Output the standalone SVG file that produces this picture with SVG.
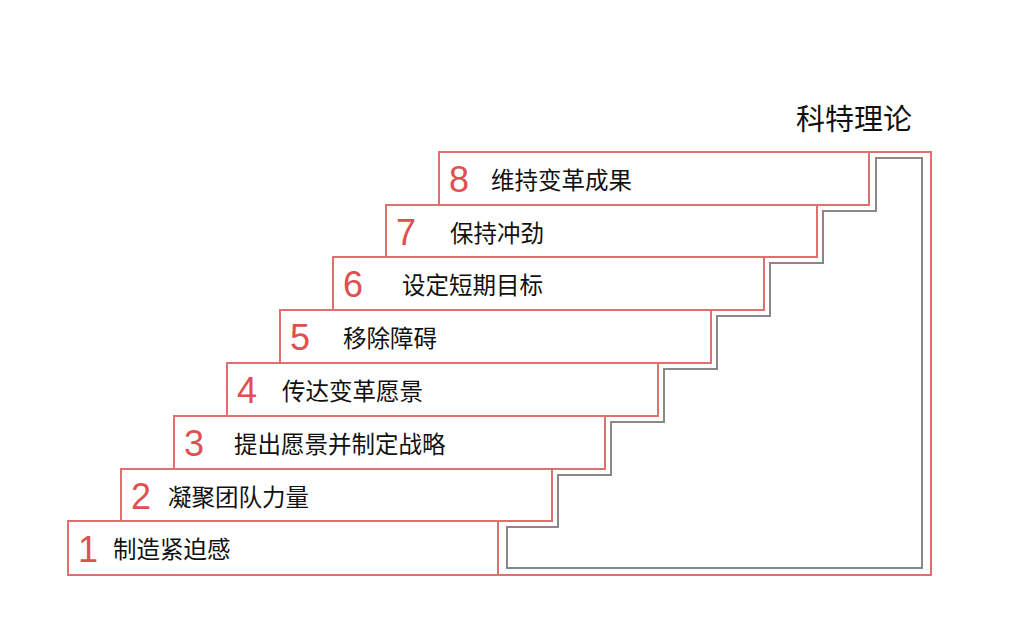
<svg xmlns="http://www.w3.org/2000/svg" width="1014" height="623" viewBox="0 0 1014 623">
<style>
.s{fill:#fff;stroke:#e07070;stroke-width:2}
.n{fill:#e05050;font-family:"Liberation Sans",sans-serif;font-size:36px}
.t{fill:#111;font-family:"Noto Sans CJK SC",sans-serif;font-size:23.5px}
</style>
<rect width="1014" height="623" fill="#fff"/>
<text x="796" y="130" font-family="Noto Sans CJK SC,sans-serif" font-size="29" fill="#111">科特理论</text>
<g id="frame">
<rect class="s" x="498" y="152" width="433" height="423"/>
<path d="M507,568 V527 H558 V475 H611 V422 H664 V369 H717 V316 H770 V263 H823 V211 H876 V158 H922 V568 Z" fill="none" stroke="#888" stroke-width="2"/>
</g>
<g id="step8"><rect class="s" x="439" y="152" width="430" height="53"/><text class="n" x="449" y="192">8</text><text class="t" x="491" y="189">维持变革成果</text></g>
<g id="step7"><rect class="s" x="386" y="205" width="431" height="52"/><text class="n" x="396" y="245">7</text><text class="t" x="450" y="242">保持冲劲</text></g>
<g id="step6"><rect class="s" x="333" y="257" width="431" height="53"/><text class="n" x="343" y="297">6</text><text class="t" x="402" y="294">设定短期目标</text></g>
<g id="step5"><rect class="s" x="280" y="310" width="431" height="53"/><text class="n" x="290" y="350">5</text><text class="t" x="343" y="347">移除障碍</text></g>
<g id="step4"><rect class="s" x="227" y="363" width="431" height="53"/><text class="n" x="237" y="403">4</text><text class="t" x="282" y="400">传达变革愿景</text></g>
<g id="step3"><rect class="s" x="174" y="416" width="431" height="53"/><text class="n" x="184" y="456">3</text><text class="t" x="234" y="453">提出愿景并制定战略</text></g>
<g id="step2"><rect class="s" x="121" y="469" width="431" height="52"/><text class="n" x="131" y="509">2</text><text class="t" x="168" y="506">凝聚团队力量</text></g>
<g id="step1"><rect class="s" x="68" y="521" width="430" height="54"/><text class="n" x="78" y="562">1</text><text class="t" x="113" y="558">制造紧迫感</text></g>
</svg>
